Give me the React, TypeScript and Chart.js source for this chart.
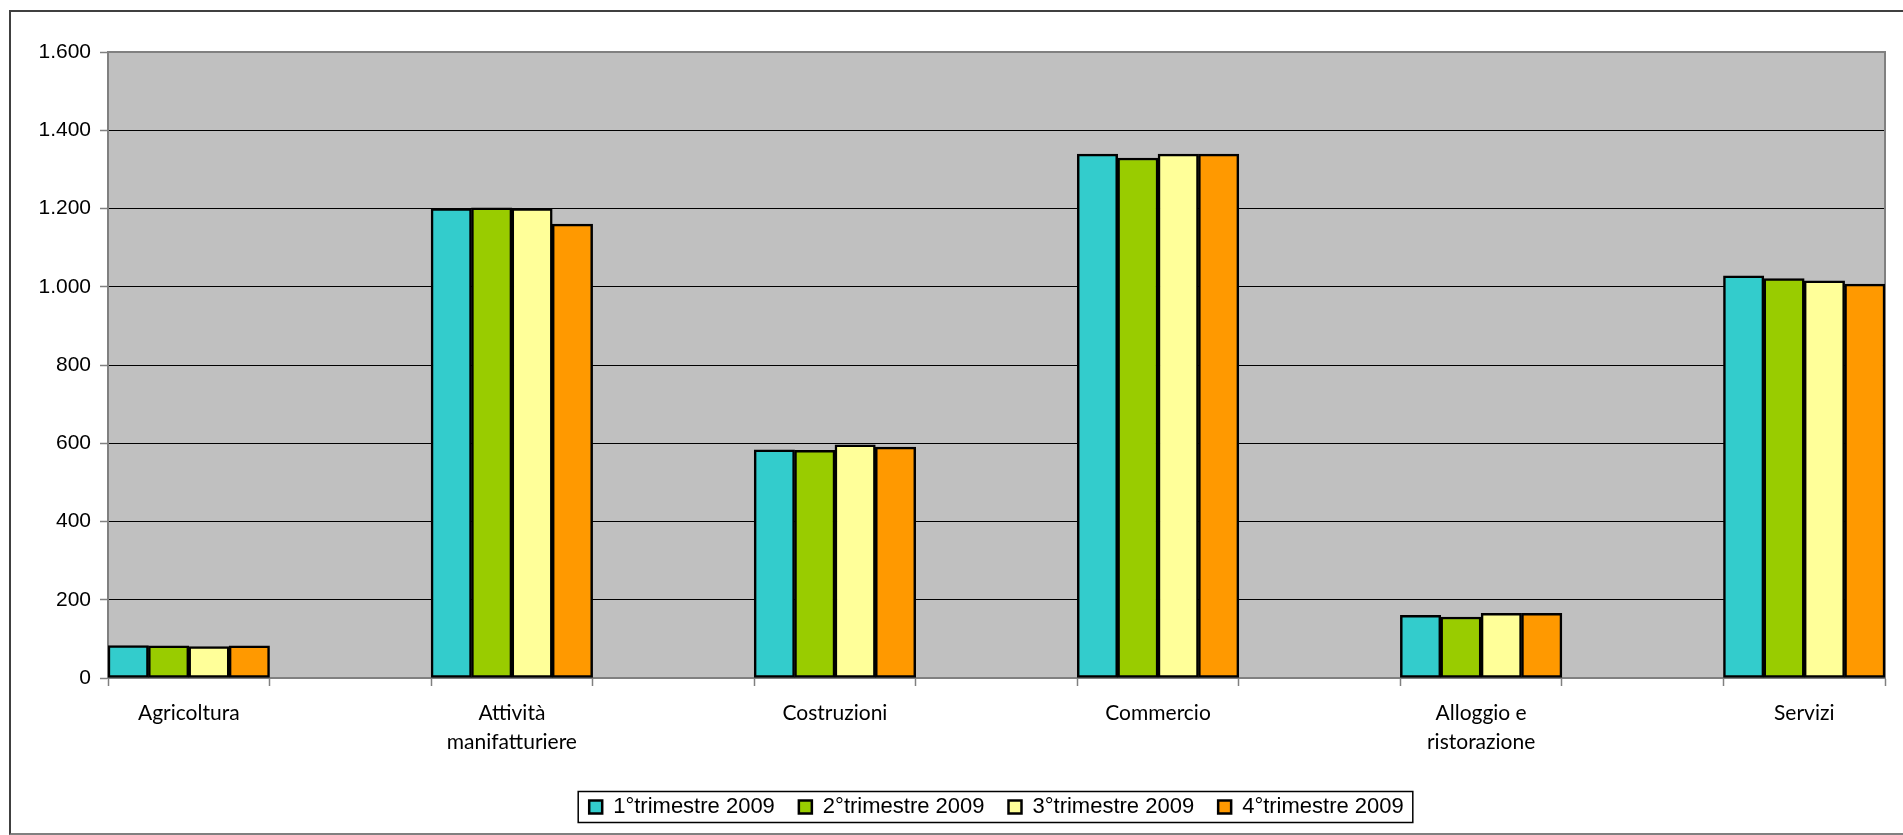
import React, { useEffect, useRef } from 'react';
import { Chart, registerables } from 'chart.js';

Chart.register(...registerables);

// ---- data ----
const categories: string[][] = [
  ['Agricoltura'],
  ['Attività', 'manifatturiere'],
  ['Costruzioni'],
  ['Commercio'],
  ['Alloggio e', 'ristorazione'],
  ['Servizi'],
];
const seriesNames = ['1°trimestre 2009', '2°trimestre 2009', '3°trimestre 2009', '4°trimestre 2009'];
const q1 = [83, 1200, 583, 1339, 160, 1028];
const q2 = [82, 1202, 582, 1329, 156, 1021];
const q3 = [80, 1200, 596, 1339, 165, 1015];
const q4 = [82, 1160, 590, 1339, 165, 1007];
const seriesColors = ['#33CCCC', '#99CC00', '#FFFF99', '#FF9900'];
const yMin = 0;
const yMax = 1600;
const yStep = 200;

// categories are separated by an empty slot, as in the original chart
const slotLabels = categories.flatMap((c, i) => (i < categories.length - 1 ? [c, ''] : [c]));
const spread = (vals: number[]) =>
  vals.flatMap((v, i) => (i < vals.length - 1 ? [v, null] : [v]));

const fmt = (v: number) => String(Math.round(v)).replace(/\B(?=(\d{3})+(?!\d))/g, '.');

const plotBg = {
  id: 'plotBg',
  beforeDraw(chart: any) {
    const { ctx, chartArea } = chart;
    ctx.save();
    ctx.fillStyle = '#C0C0C0';
    ctx.fillRect(chartArea.left, chartArea.top, chartArea.width, chartArea.height);
    ctx.restore();
  },
  beforeDatasetsDraw(chart: any) {
    const { ctx, chartArea } = chart;
    ctx.save();
    ctx.strokeStyle = '#808080';
    ctx.lineWidth = 2;
    ctx.strokeRect(chartArea.left, chartArea.top, chartArea.width, chartArea.height);
    ctx.restore();
  },
};

// centre the legend under the plot area and frame it
const legendFrame = {
  id: 'legendFrame',
  afterLayout(chart: any) {
    const lg = chart.legend;
    if (!lg) return;
    const target = (chart.chartArea.left + chart.chartArea.right) / 2;
    const d = target - (lg.left + lg.right) / 2;
    lg.left += d;
    lg.right += d;
    (lg.legendHitBoxes || []).forEach((h: any) => {
      h.left += d;
    });
  },
  afterDraw(chart: any) {
    const lg = chart.legend;
    if (!lg || !lg.legendHitBoxes || !lg.legendHitBoxes.length) return;
    const hb = lg.legendHitBoxes;
    const first = hb[0];
    const last = hb[hb.length - 1];
    const cy = first.top + first.height / 2;
    const x0 = first.left - 11;
    const x1 = last.left + last.width + 9;
    const { ctx } = chart;
    ctx.save();
    ctx.strokeStyle = '#000';
    ctx.lineWidth = 1.5;
    ctx.strokeRect(x0, cy - 15.5, x1 - x0, 31);
    ctx.restore();
  },
};

export default function App() {
  const ref = useRef<HTMLCanvasElement>(null);

  useEffect(() => {
    if (!ref.current) return;
    const series = [q1, q2, q3, q4];
    const chart = new Chart(ref.current, {
      type: 'bar',
      data: {
        labels: slotLabels as any,
        datasets: series.map((s, i) => ({
          label: seriesNames[i],
          data: spread(s) as any,
          backgroundColor: seriesColors[i],
          borderColor: '#000',
          borderWidth: 2.5,
          borderSkipped: false,
          categoryPercentage: 1,
          barPercentage: 1,
        })),
      },
      options: {
        animation: false,
        responsive: false,
        devicePixelRatio: 1,
        layout: { padding: { left: 0, top: 52, right: 18, bottom: 7 } },
        plugins: {
          tooltip: { enabled: false },
          legend: {
            position: 'bottom',
            labels: {
              color: '#000',
              font: { family: 'Arial, "Liberation Sans"', size: 22 },
              boxWidth: 13,
              boxHeight: 13,
              padding: 24,
            },
          },
        },
        scales: {
          x: {
            offset: true,
            grid: {
              offset: true,
              drawOnChartArea: false,
              drawTicks: true,
              tickLength: 8,
              tickColor: '#808080',
              tickWidth: 1.5,
            },
            border: { color: '#808080', width: 2 },
            ticks: {
              color: '#000',
              font: { family: 'Lato', size: 21, lineHeight: 1.38 },
              maxRotation: 0,
              autoSkip: false,
              padding: 13,
            },
            afterFit: (scale: any) => {
              scale.height = 94;
            },
          },
          y: {
            min: yMin,
            max: yMax,
            ticks: {
              stepSize: yStep,
              color: '#000',
              font: { family: 'Arial, "Liberation Sans"', size: 21 },
              padding: 9,
              callback: (v: any) => fmt(Number(v)),
            },
            grid: {
              color: (c: any) => (c.tick && c.tick.value === 0 ? 'rgba(0,0,0,0)' : '#000'),
              lineWidth: 1,
              tickLength: 8,
              tickColor: '#808080',
              tickWidth: 1.5,
            },
            border: { color: '#808080', width: 2 },
            afterFit: (scale: any) => {
              scale.width = 108;
            },
          },
        },
      },
      plugins: [plotBg, legendFrame],
    });
    return () => chart.destroy();
  }, []);

  return (
    <div
      style={{
        position: 'fixed',
        left: 0,
        top: 0,
        width: 1903,
        height: 835,
        background: '#fff',
        overflow: 'hidden',
      }}
    >
      <div
        style={{
          position: 'absolute',
          left: 9,
          top: 10,
          width: 1920,
          height: 821,
          borderTop: '2px solid #404040',
          borderLeft: '2px solid #404040',
          borderBottom: '2px solid #808080',
        }}
      />
      <canvas
        ref={ref}
        width={1903}
        height={835}
        style={{ position: 'absolute', left: 0, top: 0, width: 1903, height: 835, display: 'block' }}
      />
    </div>
  );
}
